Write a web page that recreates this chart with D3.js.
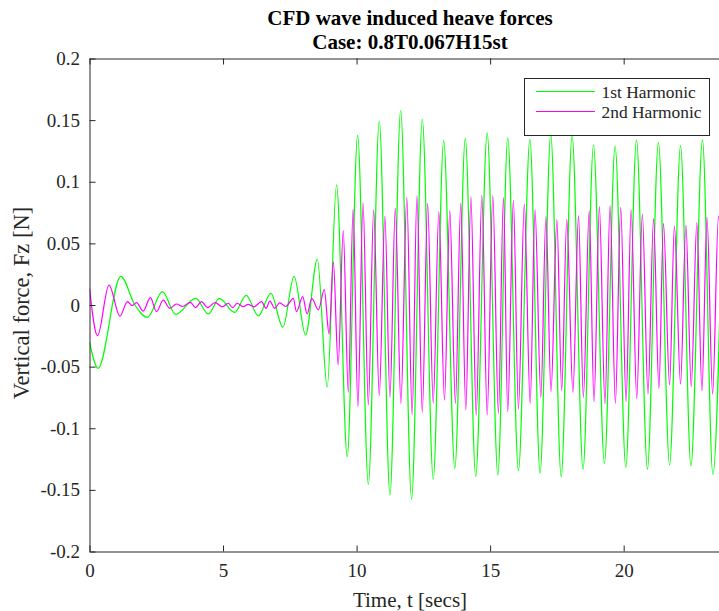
<!DOCTYPE html>
<html>
<head>
<meta charset="utf-8">
<script src="https://cdn.jsdelivr.net/npm/d3@7"></script>
<style>
  html, body { margin: 0; padding: 0; background: #fff; }
  svg { display: block; }
  text { font-family: "Liberation Serif", "Times New Roman", serif; }
</style>
</head>
<body>
<svg id="chart" width="719" height="611"></svg>
<script>
// Heave force time histories: local extrema (time [s], force [N]) of each harmonic component
const firstHarmonicT = [0, 0.32, 1.17, 1.70, 2.17, 2.73, 3.22, 3.98, 4.45, 4.86, 5.43, 5.87, 6.32, 6.79, 7.24, 7.66, 8.09, 8.53, 8.90, 9.25, 9.65, 10.04, 10.44, 10.85, 11.25, 11.65, 12.06, 12.46, 12.87, 13.26, 13.68, 14.07, 14.46, 14.89, 15.29, 15.66, 16.06, 16.49, 16.87, 17.27, 17.66, 18.07, 18.48, 18.87, 19.28, 19.68, 20.08, 20.48, 20.89, 21.30, 21.72, 22.13, 22.52, 22.95, 23.34, 23.75];
const firstHarmonicFz = [-0.030, -0.0514, 0.0233, 0.0, -0.010, 0.0108, -0.0076, 0.0054, -0.0073, 0.0054, -0.006, 0.0078, -0.0088, 0.0095, -0.018, 0.0233, -0.0243, 0.0371, -0.0665, 0.0974, -0.123, 0.1377, -0.1455, 0.1493, -0.1542, 0.158, -0.1577, 0.1507, -0.1412, 0.1333, -0.1325, 0.1352, -0.1393, 0.1396, -0.1379, 0.1357, -0.1344, 0.1344, -0.1366, 0.1387, -0.1393, 0.1374, -0.1333, 0.1298, -0.1285, 0.129, -0.1317, 0.1339, -0.1333, 0.132, -0.1298, 0.1293, -0.1306, 0.1339, -0.1374, 0.134];

const secondHarmonicT = [0, 0.30, 0.73, 1.14, 1.42, 1.60, 1.76, 2.01, 2.28, 2.51, 2.76, 3.01, 3.26, 3.48, 3.78, 3.97, 4.19, 4.42, 4.70, 4.98, 5.19, 5.36, 5.53, 5.76, 5.94, 6.15, 6.44, 6.61, 6.75, 6.94, 7.12, 7.35, 7.63, 7.75, 7.98, 8.15, 8.32, 8.57, 8.79, 8.97, 9.13, 9.31, 9.50, 9.69, 9.87, 10.05, 10.24, 10.44, 10.64, 10.85, 11.06, 11.25, 11.45, 11.66, 11.88, 12.08, 12.26, 12.46, 12.66, 12.87, 13.08, 13.29, 13.49, 13.70, 13.90, 14.09, 14.28, 14.48, 14.69, 14.89, 15.10, 15.31, 15.50, 15.66, 15.87, 16.06, 16.28, 16.50, 16.68, 16.90, 17.09, 17.28, 17.50, 17.68, 17.87, 18.10, 18.31, 18.49, 18.71, 18.89, 19.09, 19.30, 19.49, 19.69, 19.89, 20.09, 20.28, 20.49, 20.70, 20.91, 21.12, 21.32, 21.49, 21.72, 21.90, 22.13, 22.33, 22.53, 22.74, 22.93, 23.12, 23.33, 23.55, 23.75];
const secondHarmonicFz = [0.0135, -0.025, 0.0162, -0.009, 0.0027, -0.0005, 0.0019, -0.0049, 0.006, -0.0054, 0.004, -0.0027, 0.0008, -0.0012, 0.0022, -0.0022, 0.0027, -0.0022, 0.0019, -0.0014, 0.0014, -0.0022, 0.0014, -0.0014, 0.0005, -0.0015, 0.0027, -0.0027, 0.0032, -0.0027, 0.0018, -0.0012, 0.0054, -0.0054, 0.0068, -0.0073, 0.0054, -0.004, 0.0125, -0.0235, 0.035, -0.0487, 0.0603, -0.0708, 0.0776, -0.0825, 0.083, -0.0811, 0.0771, -0.0736, 0.0722, -0.0749, 0.0784, -0.0798, 0.0874, -0.0892, 0.0887, -0.087, 0.0825, -0.0798, 0.0757, -0.0771, 0.0765, -0.0798, 0.0825, -0.0852, 0.0879, -0.0892, 0.0892, -0.0892, 0.0887, -0.0879, 0.0874, -0.0866, 0.0852, -0.0844, 0.0819, -0.0798, 0.0771, -0.0749, 0.0717, -0.0703, 0.069, -0.0695, 0.0695, -0.0708, 0.0725, -0.0749, 0.0763, -0.0785, 0.0798, -0.0803, 0.0806, -0.0798, 0.0793, -0.0785, 0.0771, -0.0757, 0.0738, -0.0722, 0.0698, -0.0676, 0.0663, -0.0649, 0.0643, -0.0641, 0.0649, -0.0663, 0.0671, -0.0695, 0.0712, -0.0722, 0.0722, -0.072];

const xTicks = [0, 5, 10, 15, 20];
const xTickLabels = ["0", "5", "10", "15", "20"];
const yTicks = [0.2, 0.15, 0.1, 0.05, 0, -0.05, -0.1, -0.15, -0.2];
const yTickLabels = ["0.2", "0.15", "0.1", "0.05", "0", "-0.05", "-0.1", "-0.15", "-0.2"];
const seriesNames = ["1st Harmonic", "2nd Harmonic"];
const seriesColors = ["#00ff00", "#ff00ff"];

const svg = d3.select("#chart");
const axisColor = "#262626";
const serif = '"Liberation Serif", "Times New Roman", serif';

const plotLeft = 89.5, plotRight = 730.5, plotTop = 58.5, plotBottom = 551.5;
const x = d3.scaleLinear().domain([0, 24]).range([plotLeft, plotRight]);
const y = d3.scaleLinear().domain([-0.2, 0.2]).range([plotBottom, plotTop]);

// white plot area
svg.append("rect").attr("x", plotLeft).attr("y", plotTop)
  .attr("width", plotRight - plotLeft).attr("height", plotBottom - plotTop).attr("fill", "#fff");

svg.append("clipPath").attr("id", "plotClip")
  .append("rect").attr("x", plotLeft).attr("y", plotTop)
  .attr("width", plotRight - plotLeft).attr("height", plotBottom - plotTop);

const series = [
  d3.zip(firstHarmonicT, firstHarmonicFz),
  d3.zip(secondHarmonicT, secondHarmonicFz)
];

const lineGen = d3.line()
  .x(d => x(d[0]))
  .y(d => y(d[1]))
  .curve(d3.curveMonotoneX);

const plot = svg.append("g").attr("clip-path", "url(#plotClip)");
series.forEach((s, i) => {
  plot.append("path")
    .datum(s)
    .attr("fill", "none")
    .attr("stroke", seriesColors[i])
    .attr("stroke-width", 1.2)
    .attr("stroke-linejoin", "round")
    .attr("d", lineGen);
});

// axes: box with inward ticks
function styleAxis(g) {
  g.attr("font-family", serif).attr("font-size", 19);
  g.selectAll(".domain").attr("stroke", axisColor).attr("stroke-width", 1);
  g.selectAll(".tick line").attr("stroke", axisColor).attr("stroke-width", 1);
  g.selectAll(".tick text").attr("fill", axisColor);
}

svg.append("g").attr("transform", `translate(0,${plotBottom})`)
  .call(d3.axisBottom(x).tickValues(xTicks)
    .tickFormat((d, i) => xTickLabels[i]).tickSize(-6).tickSizeOuter(0).tickPadding(12.5))
  .call(styleAxis);

svg.append("g").attr("transform", `translate(0,${plotTop})`)
  .call(d3.axisTop(x).tickValues(xTicks).tickFormat("").tickSize(-6).tickSizeOuter(0))
  .call(styleAxis);

svg.append("g").attr("transform", `translate(${plotLeft},0)`)
  .call(d3.axisLeft(y).tickValues(yTicks)
    .tickFormat((d, i) => yTickLabels[i]).tickSize(-6).tickSizeOuter(0).tickPadding(9.5))
  .call(styleAxis);

svg.append("g").attr("transform", `translate(${plotRight},0)`)
  .call(d3.axisRight(y).tickValues(yTicks).tickFormat("").tickSize(-6).tickSizeOuter(0))
  .call(styleAxis);

// title
const cx = (plotLeft + plotRight) / 2;
svg.append("text").attr("x", cx).attr("y", 25).attr("text-anchor", "middle")
  .attr("font-size", 21).attr("font-weight", "bold").attr("fill", "#000")
  .text("CFD wave induced heave forces");
svg.append("text").attr("x", cx).attr("y", 49).attr("text-anchor", "middle")
  .attr("font-size", 21).attr("font-weight", "bold").attr("fill", "#000")
  .text("Case: 0.8T0.067H15st");

// axis labels
svg.append("text").attr("x", cx).attr("y", 607).attr("text-anchor", "middle")
  .attr("font-size", 21).attr("fill", axisColor)
  .text("Time, t [secs]");
svg.append("text")
  .attr("transform", `translate(29,${(plotTop + plotBottom) / 2 - 2}) rotate(-90)`)
  .attr("text-anchor", "middle")
  .attr("font-size", 22.5).attr("fill", axisColor)
  .text("Vertical force, Fz [N]");

// legend
const legend = svg.append("g");
legend.append("rect").attr("x", 524.5).attr("y", 78.5).attr("width", 185).attr("height", 57)
  .attr("fill", "#fff").attr("stroke", axisColor).attr("stroke-width", 1);
const legendRows = legend.selectAll("g.row")
  .data(seriesNames.map((name, i) => ({ name, color: seriesColors[i], row: i })))
  .join("g").attr("class", "row")
  .attr("transform", d => `translate(0,${91.5 + d.row * 20})`);
legendRows.append("line").attr("x1", 536).attr("x2", 595).attr("y1", 0).attr("y2", 0)
  .attr("stroke", d => d.color).attr("stroke-width", 1.2);
legendRows.append("text").attr("x", 601.5).attr("y", 6)
  .attr("font-size", 17.4).attr("fill", axisColor).text(d => d.name);
</script>
</body>
</html>
